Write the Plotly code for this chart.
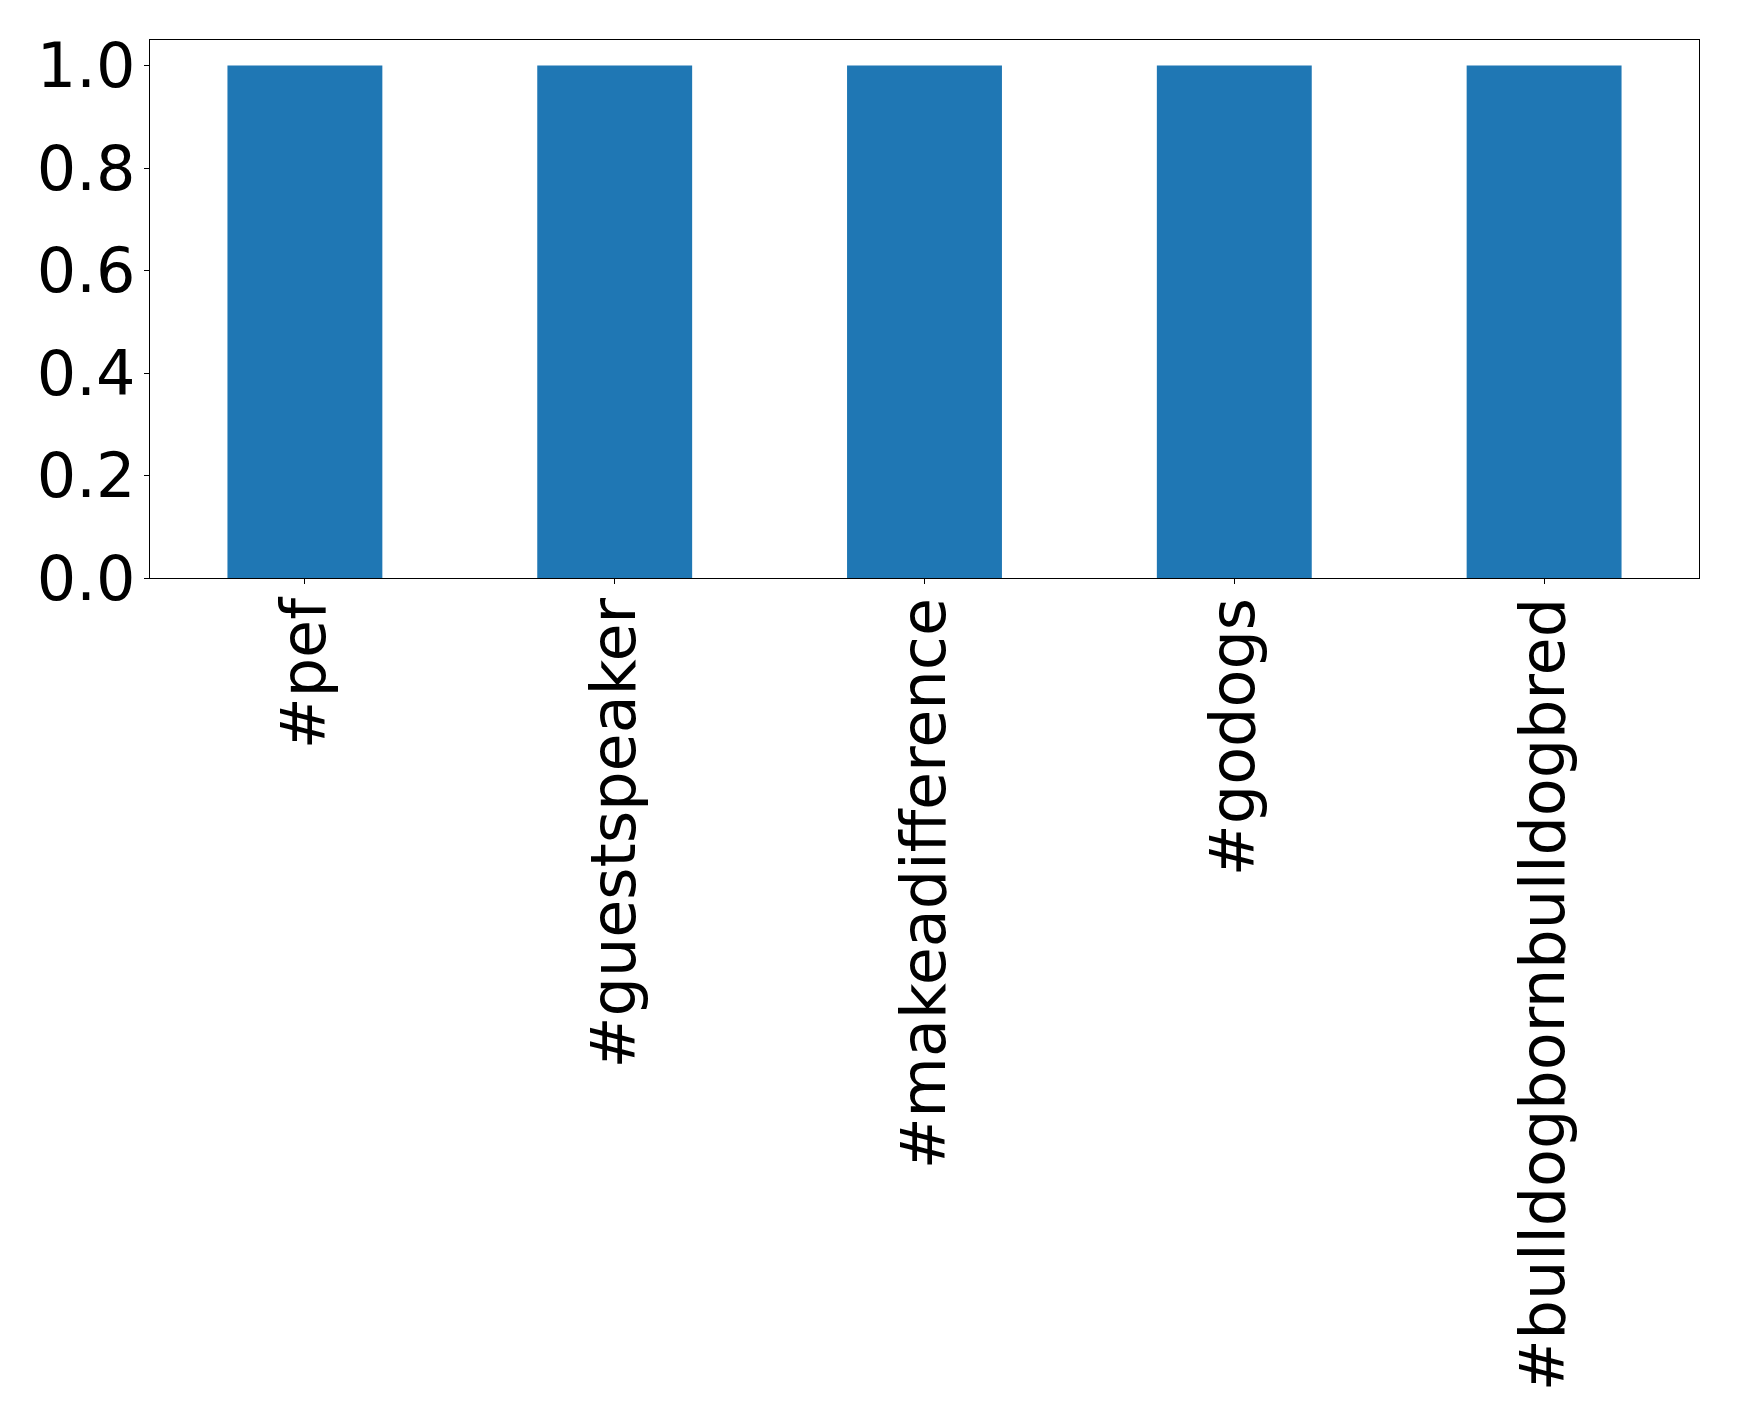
import plotly.graph_objects as go

categories = ["#pef", "#guestspeaker", "#makeadifference", "#godogs", "#bulldogbornbulldogbred"]
values = [1, 1, 1, 1, 1]
y_ticks = [0.0, 0.2, 0.4, 0.6, 0.8, 1.0]
y_labels = ["0.0", "0.2", "0.4", "0.6", "0.8", "1.0"]

fig = go.Figure(go.Bar(x=categories, y=values, marker=dict(color="#1f77b4", line=dict(width=0)), width=0.5))

W, H = 1739, 1427
fig.update_layout(
    width=W, height=H,
    margin=dict(l=141.5, r=47.5, t=31.5, b=857, autoexpand=False),
    paper_bgcolor="white", plot_bgcolor="white",
    font=dict(family="DejaVu Sans", size=62, color="black"),
    showlegend=False,
)
fig.update_xaxes(
    range=[-0.5, 4.5], tickangle=-90, ticks="outside", ticklen=5, tickwidth=1, tickcolor="black",
    showline=True, linecolor="black", linewidth=1.3, mirror=True, showgrid=False,
    tickfont=dict(size=62, family="DejaVu Sans"), ticklabelstandoff=-11,
)
fig.update_yaxes(
    range=[0, 1.05], tickvals=y_ticks, ticktext=y_labels, ticks="outside", ticklen=5, tickwidth=1,
    tickcolor="black", showline=True, linecolor="black", linewidth=1.3, mirror=True, showgrid=False,
    zeroline=False, tickfont=dict(size=62, family="DejaVu Sans"), ticklabelstandoff=-4,
)
fig.write_html("out.html")
